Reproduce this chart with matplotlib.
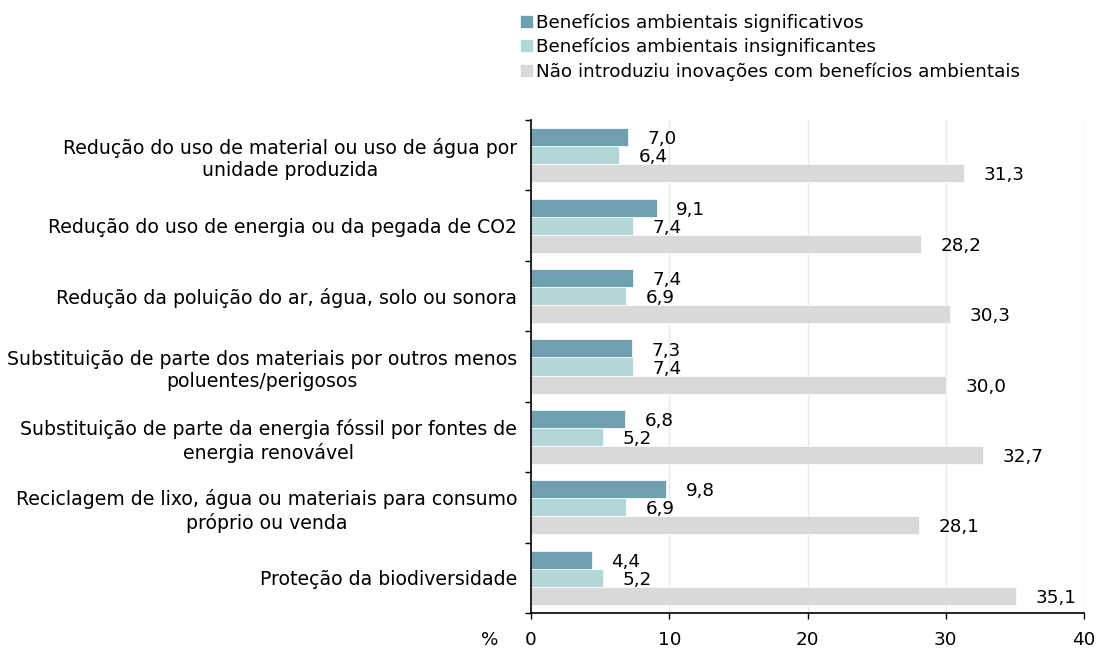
import numpy as np
import matplotlib
matplotlib.use("Agg")
import matplotlib.pyplot as plt

categories = [
    "Redução do uso de material ou uso de água por\nunidade produzida",
    "Redução do uso de energia ou da pegada de CO2",
    "Redução da poluição do ar, água, solo ou sonora",
    "Substituição de parte dos materiais por outros menos\npoluentes/perigosos",
    "Substituição de parte da energia fóssil por fontes de\nenergia renovável",
    "Reciclagem de lixo, água ou materiais para consumo\npróprio ou venda",
    "Proteção da biodiversidade",
]
significativos = [7.0, 9.1, 7.4, 7.3, 6.8, 9.8, 4.4]
insignificantes = [6.4, 7.4, 6.9, 7.4, 5.2, 6.9, 5.2]
nao_introduziu = [31.3, 28.2, 30.3, 30.0, 32.7, 28.1, 35.1]
series_names = [
    "Benefícios ambientais significativos",
    "Benefícios ambientais insignificantes",
    "Não introduziu inovações com benefícios ambientais",
]
colors = ["#6FA0B0", "#B3D7D8", "#D9D9D9"]
xticks = [0, 10, 20, 30, 40]

plt.rcParams["font.family"] = "DejaVu Sans"
FS = 13.2

fig = plt.figure(figsize=(10.99, 6.48), dpi=100)
ax = fig.add_axes([531 / 1099, 1 - 613 / 648, 553 / 1099, 493 / 648])

y = np.arange(len(categories))
h = 0.256
series = [significativos, insignificantes, nao_introduziu]
for k, (vals, name, c) in enumerate(zip(series, series_names, colors)):
    pos = y + (k - 1) * h
    ax.barh(pos, vals, height=h, color=c, edgecolor="white", linewidth=0.5,
            label=name, zorder=2)
    for p, v in zip(pos, vals):
        ax.annotate(f"{v:.1f}".replace(".", ","), (v, p), xytext=(14, -1.5),
                    textcoords="offset points", va="center", ha="left",
                    fontsize=FS, zorder=3)

ax.set_xlim(0, 40)
ax.set_ylim(len(categories) - 0.5, -0.5)
ax.set_xticks(xticks)
ax.set_xticklabels([str(t) for t in xticks], fontsize=FS)
ax.tick_params(axis="x", length=4, pad=9, width=1)
ax.grid(axis="x", color="#E8E8E8", linewidth=1, zorder=0)

ax.set_yticks(np.arange(len(categories) + 1) - 0.5)
ax.set_yticklabels([])
ax.tick_params(axis="y", which="major", length=4, width=1)
ax.set_yticks(y, minor=True)
ax.set_yticklabels(categories, minor=True, fontsize=13.6, multialignment="center",
                   linespacing=1.25)
ax.tick_params(axis="y", which="minor", length=0, pad=10)

for s in ["top", "right"]:
    ax.spines[s].set_visible(False)
for s in ["left", "bottom"]:
    ax.spines[s].set_linewidth(1.2)

ax.text(-0.074, -0.055, "%", transform=ax.transAxes, ha="center", va="center",
        fontsize=FS)

fig.legend(loc="upper left", bbox_to_anchor=(513 / 1099, 1 - 6 / 648),
           frameon=False, fontsize=FS, handlelength=0.7, handleheight=0.7,
           handletextpad=0.15, labelspacing=0.32, borderaxespad=0)

fig.savefig("out.png", dpi=100)
